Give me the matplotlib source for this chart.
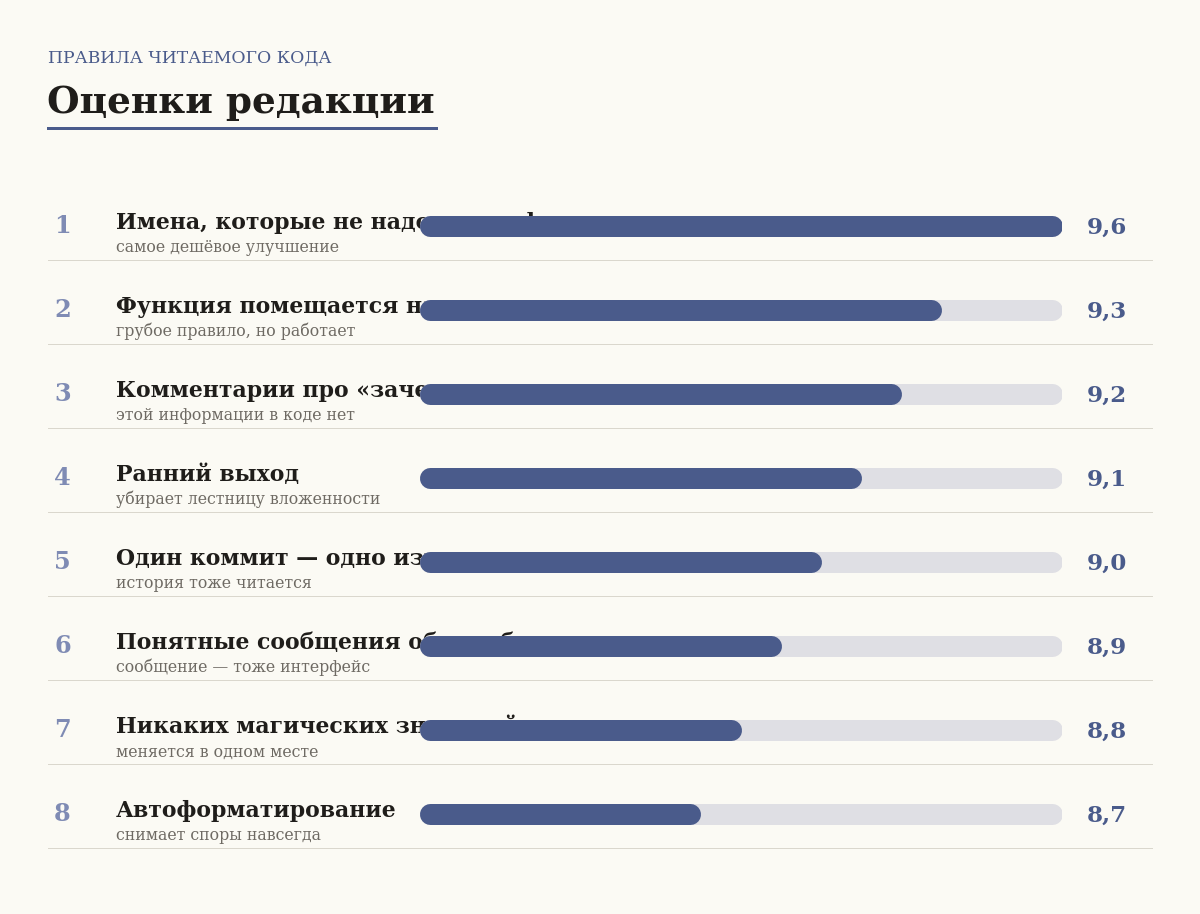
import matplotlib
matplotlib.use("Agg")
import matplotlib.pyplot as plt
from matplotlib import transforms

# данные
ranks = [1, 2, 3, 4, 5, 6, 7, 8]
titles = [
    "Имена, которые не надо расшифровывать",
    "Функция помещается на экран",
    "Комментарии про «зачем», а не «что»",
    "Ранний выход",
    "Один коммит — одно изменение",
    "Понятные сообщения об ошибках",
    "Никаких магических значений",
    "Автоформатирование",
]
notes = [
    "самое дешёвое улучшение",
    "грубое правило, но работает",
    "этой информации в коде нет",
    "убирает лестницу вложенности",
    "история тоже читается",
    "сообщение — тоже интерфейс",
    "меняется в одном месте",
    "снимает споры навсегда",
]
scores = [9.6, 9.3, 9.2, 9.1, 9.0, 8.9, 8.8, 8.7]
scale_min, scale_max = 8.0, 9.6

# цвета
BG = "#fbfaf4"
INK = "#1f1d1a"
ACCENT = "#4a5b8b"
TRACK = "#dfdfe4"
GREY = "#6e6a63"
RANK = "#7f8bb4"
RULE = "#dad7cd"

W, H = 1200, 914
FONT = "DejaVu Serif"


def px(v):
    return v * 0.72


fig = plt.figure(figsize=(W / 100, H / 100), dpi=100)
fig.patch.set_facecolor(BG)

# шапка
fig.text(48 / W, 1 - 62.5 / H, "ПРАВИЛА ЧИТАЕМОГО КОДА", family=FONT,
         fontsize=px(17.2), color=ACCENT, va="baseline", ha="left")
fig.text(47 / W, 1 - 113 / H, "Оценки редакции", family=FONT, weight="bold",
         fontsize=px(37.4), color=INK, va="baseline", ha="left")
fig.add_artist(plt.Line2D([48 / W, 436 / W], [1 - 128 / H, 1 - 128 / H],
                          transform=fig.transFigure, color=ACCENT, lw=px(3)))

# оси для полос
ax_left, ax_w = 420, 642
ax = fig.add_axes([ax_left / W, 1 - 856 / H, ax_w / W, 672 / H])
ax.set_xlim(scale_min, scale_max)
ax.set_ylim(len(scores) - 0.5, -0.5)
ax.axis("off")

bar_px = 21
r = bar_px / 2 / ax_w * (scale_max - scale_min)
row_px = 84
trans = transforms.blended_transform_factory(fig.transFigure, ax.transData)

for i, (rk, t, n, s) in enumerate(zip(ranks, titles, notes, scores)):
    # дорожка и заполнение
    ax.plot([scale_min + r, scale_max - r], [i, i], color=TRACK, lw=px(bar_px),
            solid_capstyle="round", zorder=2)
    ax.plot([scale_min + r, s - r], [i, i], color=ACCENT, lw=px(bar_px),
            solid_capstyle="round", zorder=3)

    ax.text(54 / W, i + 7 / row_px, str(rk), transform=trans, family=FONT,
            weight="bold", fontsize=px(24), color=RANK, va="baseline", zorder=1)
    ax.text(116 / W, i + 3 / row_px, t, transform=trans, family=FONT,
            weight="bold", fontsize=px(22), color=INK, va="baseline", zorder=1)
    ax.text(116 / W, i + 26.5 / row_px, n, transform=trans, family=FONT,
            fontsize=px(15.7), color=GREY, va="baseline", zorder=1)
    ax.text(1087 / W, i + 8 / row_px, f"{s:.1f}".replace(".", ","),
            transform=trans, family=FONT, weight="bold", fontsize=px(23),
            color=ACCENT, va="baseline", zorder=1)

    ax.plot([48 / W, 1152 / W], [i + 0.5 - 8 / row_px] * 2, transform=trans,
            color=RULE, lw=px(1), clip_on=False, zorder=1)

fig.savefig("out.png", dpi=100, facecolor=BG)
